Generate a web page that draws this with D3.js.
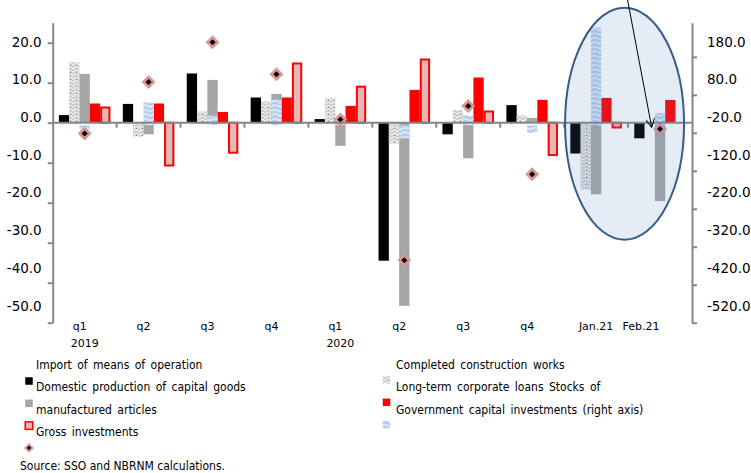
<!DOCTYPE html>
<html>
<head>
<meta charset="utf-8">
<script src="https://cdnjs.cloudflare.com/ajax/libs/d3/7.8.5/d3.min.js"></script>
<style>
  body { margin: 0; background: #fff; }
  text { font-family: "DejaVu Sans", Verdana, sans-serif; fill: #000; }
  .leg text { font-family: "DejaVu Sans Condensed", "DejaVu Sans", sans-serif; font-size: 12px; word-spacing: 2px; }
</style>
</head>
<body>
<script>
// periods (unique keys) and their axis labels
var periods = ['2019q1','2019q2','2019q3','2019q4','2020q1','2020q2','2020q3','2020q4','2021m1','2021m2'];
var tickLabels = ['q1','q2','q3','q4','q1','q2','q3','q4','Jan.21','Feb.21'];
var yearLabels = ['2019','','','','2020','','','','',''];

// left axis series (% contribution)
var imports      = [1.9, 4.7, 12.3, 6.3, 0.9, -34.5, -2.9, 4.4, -7.7, -3.9];
var construction = [15.1, -3.5, 2.8, 5.4, 6.2, -5.2, 3.2, 1.9, -16.7, null];
var domestic     = [12.2, -2.9, 10.7, 7.2, -5.8, -45.8, -8.9, 1.2, -17.9, -19.6];
var loans        = [4.8, 4.8, 2.7, 6.3, 4.2, 8.2, 11.3, 5.7, 6.2, 5.7];
var stocks       = [3.8, -10.7, -7.5, 14.8, 9.0, 15.8, 2.8, -8.1, -1.2, null];
var gross        = [-2.7, 10.2, 20.1, 12.1, 0.8, -34.4, 4.2, -12.9, null, -1.6];
// right axis series
var government   = [-13, 60, 25, 68, 5, -35, 26, -20, 257, 32];

var leftTicks = [20, 10, 0, -10, -20, -30, -40, -50];
var rightTicks = [180, 80, -20, -120, -220, -320, -420, -520];

var legendLeft = ['Import  of means  of operation', 'Domestic  production   of capital  goods', 'manufactured   articles', 'Gross investments'];
var legendRight = ['Completed  construction   works', 'Long-term   corporate  loans  Stocks  of', 'Government   capital  investments  (right  axis)'];
var source = 'Source: SSO and NBRNM calculations.';

var width = 751, height = 473;
var pLeft = 52.7, pRight = 692, pTop = 22.7, pBottom = 322.7;

var svg = d3.select('body').append('svg').attr('width', width).attr('height', height);
var defs = svg.append('defs');

// textured grey (completed construction works)
var pg = defs.append('pattern').attr('id','texGrey').attr('patternUnits','userSpaceOnUse').attr('width',6).attr('height',7);
pg.append('rect').attr('width',6).attr('height',7).attr('fill','#cdcdcd');
pg.append('path').attr('d','M0,1 Q1.5,3 3,1 T6,1 M0,4.5 Q1.5,6.5 3,4.5 T6,4.5').attr('fill','none').attr('stroke','#f4f4f4').attr('stroke-width',1.2);
pg.append('rect').attr('x',4).attr('y',2).attr('width',1).attr('height',1).attr('fill','#808080');

// wavy blue (government capital investments)
var pb = defs.append('pattern').attr('id','waveBlue').attr('patternUnits','userSpaceOnUse').attr('width',10).attr('height',4.5);
pb.append('rect').attr('width',10).attr('height',4.5).attr('fill','#b4cceb');
pb.append('path').attr('d','M0,3.8 Q5,-0.5 10,3.8').attr('fill','none').attr('stroke','#f4f8fd').attr('stroke-width',1.2);

defs.append('marker').attr('id','arrow').attr('viewBox','0 0 10 10').attr('refX',9).attr('refY',5)
  .attr('markerWidth',9).attr('markerHeight',9).attr('orient','auto')
  .append('path').attr('d','M0,0 L10,5 L0,10').attr('fill','none').attr('stroke','#000').attr('stroke-width',1.1);

var x = d3.scaleBand().domain(periods).range([pLeft, pRight]).padding(0);
var primaryKeys = ['imports','construction','domestic','loans','stocks'];
var primary = {imports: imports, construction: construction, domestic: domestic, loans: loans, stocks: stocks};
var x1 = d3.scaleBand().domain(primaryKeys).range([0, x.bandwidth()]).paddingInner(0).paddingOuter(0.6);
var y = d3.scaleLinear().domain([-50, 25]).range([pBottom, pTop]);
var y2 = d3.scaleLinear().domain([-520, 270]).range([pBottom, pTop]);

var fills = {imports: '#000000', construction: 'url(#texGrey)', domestic: '#a6a6a6', loans: '#ff0000', stocks: '#e6b9b8', government: 'url(#waveBlue)'};

// primary bars
primaryKeys.forEach(function(k){
  svg.append('g').selectAll('rect')
    .data(primary[k].map(function(v,i){ return {p: periods[i], v: v}; }).filter(function(d){ return d.v !== null; }))
    .enter().append('rect')
      .attr('x', function(d){ return x(d.p) + x1(k) + (k === 'stocks' ? 1 : 0); })
      .attr('width', x1.bandwidth() - (k === 'stocks' ? 2 : 0))
      .attr('y', function(d){ return y(Math.max(0, d.v)); })
      .attr('height', function(d){ return Math.abs(y(d.v) - y(0)); })
      .attr('fill', fills[k])
      .attr('stroke', k === 'stocks' ? '#ff0000' : 'none')
      .attr('stroke-width', 2);
});

// right axis bars (centered)
svg.append('g').selectAll('rect')
  .data(government.map(function(v,i){ return {p: periods[i], v: v}; }))
  .enter().append('rect')
    .attr('x', function(d){ return x(d.p) + x1('domestic'); })
    .attr('width', x1.bandwidth())
    .attr('y', function(d){ return y2(Math.max(0, d.v)); })
    .attr('height', function(d){ return Math.abs(y2(d.v) - y2(0)); })
    .attr('fill', fills.government);

// gross investments markers
var diamond = 'M0,-5 L5,0 L0,5 L-5,0Z';
svg.append('g').selectAll('path')
  .data(gross.map(function(v,i){ return {p: periods[i], v: v}; }).filter(function(d){ return d.v !== null; }))
  .enter().append('path')
    .attr('d', diamond)
    .attr('transform', function(d){ return 'translate(' + (x(d.p) + x.bandwidth()/2) + ',' + y(d.v) + ')'; })
    .attr('fill', '#000').attr('stroke', '#d99694').attr('stroke-width', 2.8);

// axes
var axisCol = '#868686';
var labelY = d3.scaleLinear().domain([20, -50]).range([y(20) - 1, y(-50) - 17]);

var gl = svg.append('g').attr('transform','translate(' + pLeft + ',0)')
  .call(d3.axisLeft(y).tickValues(leftTicks).tickSize(5).tickSizeOuter(0).tickPadding(6)
        .tickFormat(function(d){ return d.toFixed(1); }));
var gr = svg.append('g').attr('transform','translate(' + pRight + ',0)')
  .call(d3.axisRight(y2).tickValues(rightTicks).tickSize(5).tickSizeOuter(0).tickPadding(10)
        .tickFormat(function(d){ return d.toFixed(1); }));
[gl, gr].forEach(function(g, j){
  g.select('.domain').attr('stroke', axisCol).attr('stroke-width', 2);
  g.selectAll('.tick line').attr('stroke', axisCol).attr('stroke-width', 2);
  g.selectAll('.tick text').attr('font-size', 13.5).attr('font-family', null)
    .attr('y', function(d, i){ return labelY(leftTicks[i]) - (j ? y2(d) : y(d)); });
});

// category axis on zero line
svg.append('line').attr('x1', pLeft).attr('x2', pRight).attr('y1', y(0)).attr('y2', y(0))
  .attr('stroke', axisCol).attr('stroke-width', 2);
svg.append('g').selectAll('line').data(periods.slice(1)).enter().append('line')
  .attr('x1', function(d){ return x(d); }).attr('x2', function(d){ return x(d); })
  .attr('y1', y(0)).attr('y2', y(0) + 5).attr('stroke', axisCol).attr('stroke-width', 2);

svg.append('g').selectAll('text').data(periods).enter().append('text')
  .attr('x', function(d,i){ return x(d) + x.bandwidth()/2 - (i < 8 ? 5 : (i === 8 ? 0 : 19)); })
  .attr('y', pBottom + 7).attr('text-anchor','middle').attr('font-size', 11)
  .text(function(d,i){ return tickLabels[i]; });
svg.append('g').selectAll('text').data(periods).enter().append('text')
  .attr('x', function(d){ return x(d) + x.bandwidth()/2; })
  .attr('y', pBottom + 24).attr('text-anchor','middle').attr('font-size', 11)
  .text(function(d,i){ return yearLabels[i]; });

// highlight ellipse around the monthly data
var cx = x('2021m2') - 3.5;
svg.append('ellipse').attr('cx', cx).attr('cy', y(0) + 1).attr('rx', 59.5).attr('ry', 116)
  .attr('fill', '#4f81bd').attr('fill-opacity', 0.15)
  .attr('stroke', '#385d8a').attr('stroke-width', 2);
svg.append('line').attr('x1', cx + 3).attr('y1', 0).attr('x2', cx + 27).attr('y2', y(0) + 4)
  .attr('stroke', '#000').attr('stroke-width', 1).attr('marker-end', 'url(#arrow)');

// legend
var leg = svg.append('g').attr('class','leg');
var sw = 7.5;
function swatch(g, cxp, cyp, key){
  if (key === 'gross') {
    g.append('path').attr('d', 'M0,-3.5 L3.5,0 L0,3.5 L-3.5,0Z')
      .attr('transform','translate(' + cxp + ',' + cyp + ')')
      .attr('fill','#000').attr('stroke','#d99694').attr('stroke-width',2);
  } else {
    g.append('rect').attr('x', cxp - sw/2).attr('y', cyp - sw/2).attr('width', sw).attr('height', sw)
      .attr('fill', fills[key])
      .attr('stroke', key === 'stocks' ? '#ff0000' : 'none').attr('stroke-width', 1.6);
  }
}
var legLeftKeys = ['imports','domestic','stocks','gross'];
var legRightKeys = ['construction','loans','government'];
legendLeft.forEach(function(t,i){
  leg.append('text').attr('x', 36).attr('y', 369 + i*22.3).text(t);
  swatch(leg, 29, 381 + i*22.3, legLeftKeys[i]);
});
legendRight.forEach(function(t,i){
  leg.append('text').attr('x', 396).attr('y', 369 + i*22.3).text(t);
  swatch(leg, 386.5, 380 + i*22.3, legRightKeys[i]);
});
leg.append('text').attr('x', 20).attr('y', 470).style('word-spacing','0px').text(source);
</script>
</body>
</html>
